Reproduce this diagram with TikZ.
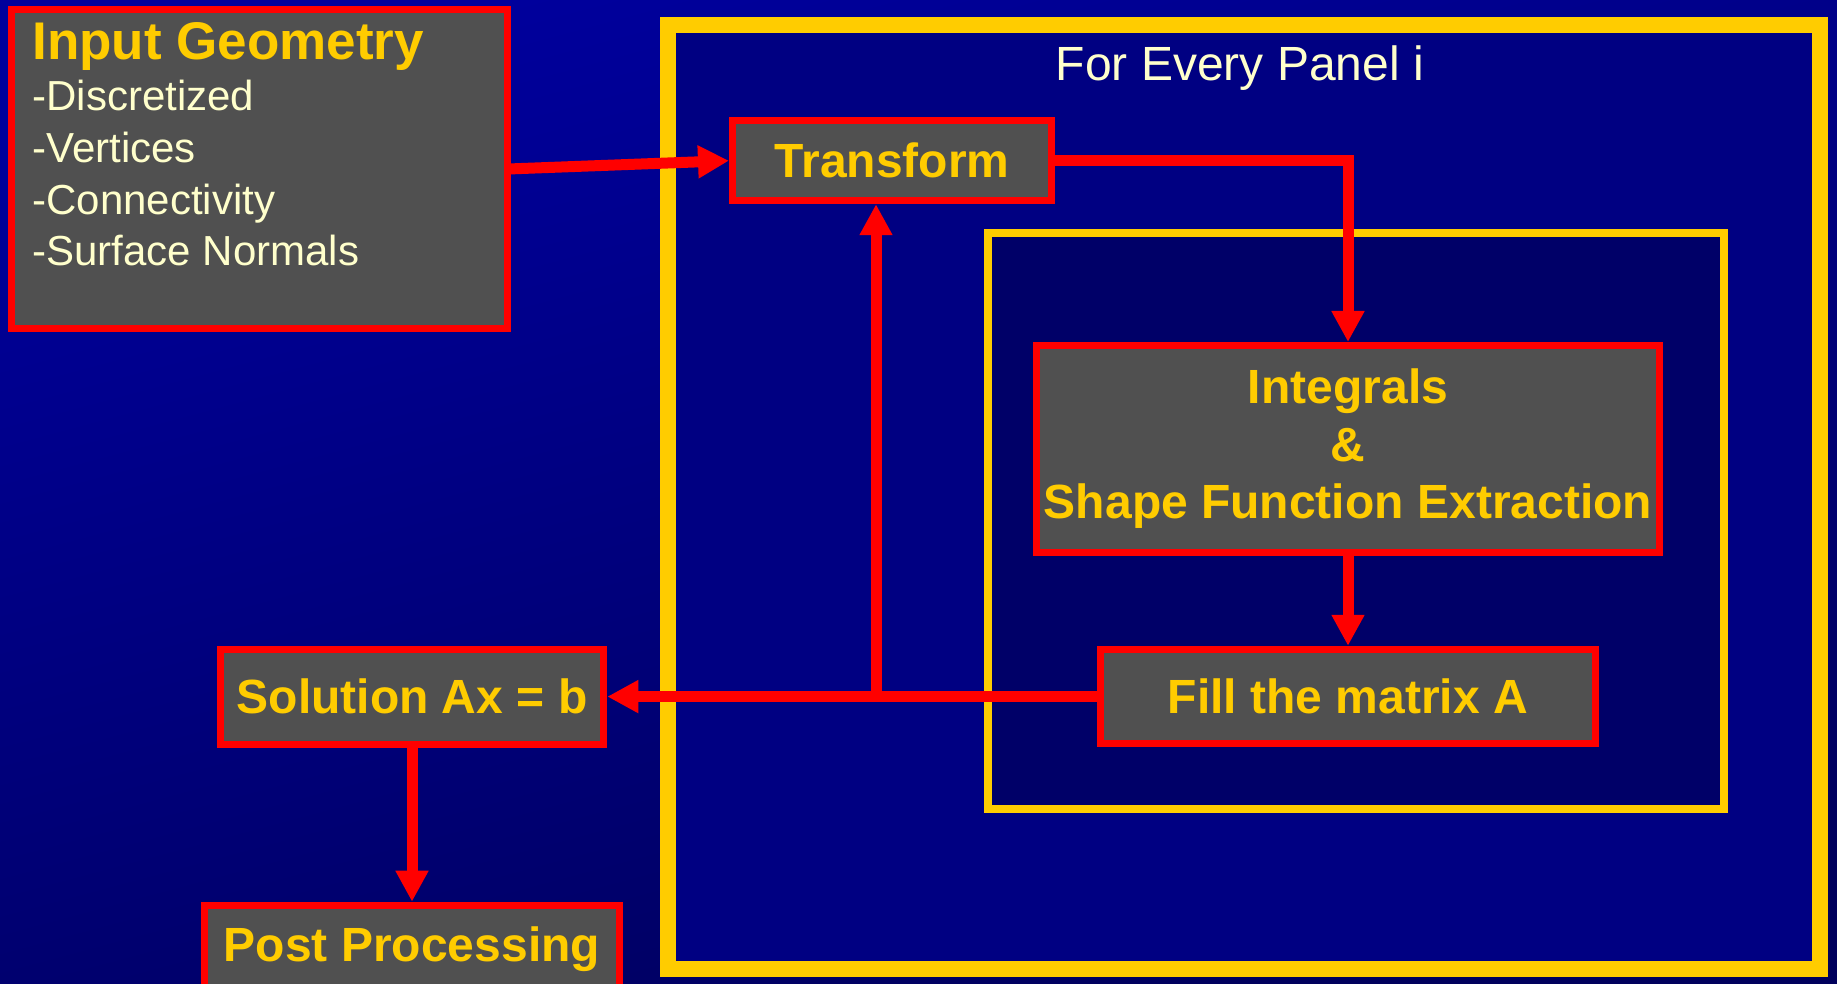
\documentclass[tikz,border=0pt]{standalone}
\usepackage{fontspec}
\setmainfont{Liberation Sans}
\usetikzlibrary{arrows.meta}

\definecolor{bgtop}{HTML}{00009C}
\definecolor{bgbot}{HTML}{00005C}
\definecolor{loopblue}{HTML}{000082}
\definecolor{innerblue}{HTML}{000068}
\definecolor{frameyellow}{HTML}{FFCC00}
\definecolor{boxgray}{HTML}{505050}
\definecolor{cream}{HTML}{FFFFCC}

\begin{document}
\begin{tikzpicture}[x=0.5pt, y=-0.5pt,
    stage/.style={draw=red, line width=3.5pt, fill=boxgray, text=frameyellow,
      font=\fontsize{24}{28.75}\selectfont\bfseries, align=center, inner sep=0pt}, % grey step boxes
    flow/.style={draw=red, line width=5.5pt, -{Triangle[length=15.5pt, width=15.5pt]}},
    outerloop/.style={draw=frameyellow, line width=8pt, fill=loopblue},
    innerloop/.style={draw=frameyellow, line width=4pt, fill=innerblue}
    ]
\useasboundingbox (0,0) rectangle (1837,984);
\clip (0,0) rectangle (1837,984);
\shade[shading=axis, top color=bgtop, bottom color=bgbot, shading angle=15] (0,0) rectangle (1837,984);

% geometry input
\node[stage, minimum width=248pt, minimum height=159.6pt] (input) at (259.5,168.9) {};
\node[anchor=north west, inner sep=0pt, align=left, text=cream,
      font=\fontsize{21}{25.8}\selectfont] (inputlist) at ([shift={(24,16)}]input.north west)
    {{\fontsize{26.5}{25.8}\selectfont\bfseries\color{frameyellow}Input Geometry}\\
     -Discretized\\-Vertices\\-Connectivity\\-Surface Normals};

% loop over the panels
\draw[outerloop] (668,24.7) rectangle (1820,968.7);
\node[anchor=base, text=cream, font=\fontsize{24}{28.8}\selectfont] (looptitle) at (1240,81) {For Every Panel i};
\draw[innerloop] (988,233) rectangle (1724,808.8);

\node[stage, minimum width=159.5pt, minimum height=40pt] (transform) at (892,160.7) {Transform};
\node[stage, minimum width=311.5pt, minimum height=103.5pt] (integrals) at (1348,449) {Integrals\\\&\\Shape Function Extraction};
\node[stage, minimum width=247.5pt, minimum height=47.3pt] (fillA) at (1348,696.6) {Fill the matrix A};

% solve and post-process
\node[stage, minimum width=191.8pt, minimum height=47.5pt] (solution) at (412,696.6) {Solution Ax = b};
\node[stage, minimum width=207.8pt, minimum height=44.3pt] (post) at (412,949.5) {Post Processing};

\draw[flow] (input.east) -- (transform.west);
\draw[flow] (transform.east) -| (integrals.north);
\draw[flow] (integrals) -- (fillA);
\draw[flow] (fillA.west) -- (solution.east);
\coordinate (split) at (876,696.6);
\draw[flow] (split) -- (split |- transform.south);
\draw[flow] (solution) -- (post);
\end{tikzpicture}
\end{document}
